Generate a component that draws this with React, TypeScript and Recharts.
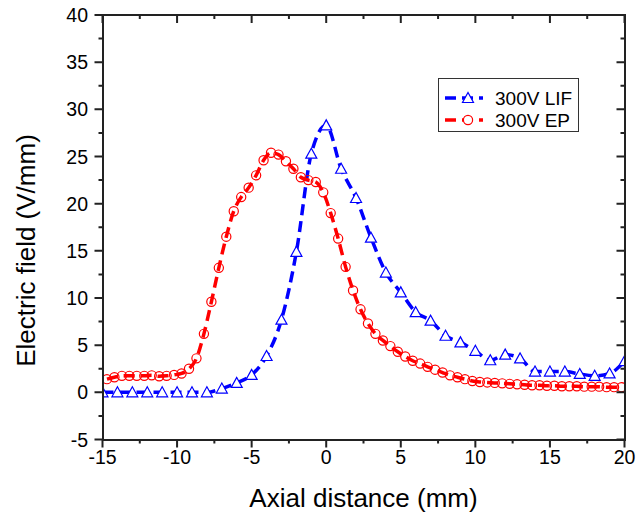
import { LineChart, Line, XAxis, YAxis, Legend, Label } from 'recharts'

// axial positions (mm) and field values (V/mm)
const LIF_X = [
  -15, -14, -13, -12, -11, -10, -9, -8, -7, -6, -5, -4, -3, -2, -1, 0, 1, 2,
  3, 4, 5, 6, 7, 8, 9, 10, 11, 12, 13, 14, 15, 16, 17, 18, 19, 20,
]
const LIF_Y = [
  0, 0, 0, 0, 0, 0, 0, 0, 0.4, 1.0, 1.85, 3.85, 7.7, 14.9, 25.3, 28.3, 23.7, 20.6,
  16.4, 12.7, 10.6, 8.5, 7.6, 6.0, 5.3, 4.4, 3.4, 4.0, 3.6, 2.2, 2.2, 2.2, 1.95, 1.75, 2.0, 3.3,
]

const EP_X = [
  -14.7, -14.2, -13.7, -13.2, -12.7, -12.2, -11.7, -11.2, -10.7, -10.2,
  -9.7, -9.2, -8.7, -8.2, -7.7, -7.2, -6.7, -6.2, -5.7, -5.2,
  -4.7, -4.2, -3.7, -3.2, -2.7, -2.2, -1.7, -1.2, -0.7, -0.2,
  0.3, 0.8, 1.3, 1.8, 2.3, 2.8, 3.3, 3.8, 4.3, 4.8,
  5.3, 5.8, 6.3, 6.8, 7.3, 7.8, 8.3, 8.8, 9.3, 9.8,
  10.3, 10.8, 11.3, 11.8, 12.3, 12.8, 13.3, 13.8, 14.3, 14.8,
  15.3, 15.8, 16.3, 16.8, 17.3, 17.8, 18.3, 18.8, 19.3, 19.8,
]
const EP_Y = [
  1.4, 1.6, 1.75, 1.75, 1.75, 1.75, 1.8, 1.7, 1.75, 1.85,
  2.0, 2.5, 3.6, 6.2, 9.6, 13.2, 16.5, 19.2, 20.7, 21.7,
  23.0, 24.6, 25.4, 25.2, 24.5, 23.7, 22.8, 22.5, 22.3, 21.2,
  19.0, 16.3, 13.3, 10.8, 8.8, 7.3, 6.2, 5.5, 4.9, 4.3,
  3.8, 3.35, 3.05, 2.7, 2.4, 2.1, 1.8, 1.6, 1.4, 1.2,
  1.1, 1.05, 1.0, 0.95, 0.9, 0.85, 0.8, 0.75, 0.75, 0.7,
  0.7, 0.65, 0.65, 0.65, 0.6, 0.6, 0.6, 0.55, 0.55, 0.55,
]

const SERIES = ['300V LIF', '300V EP']
const X_MAJOR = [-15, -10, -5, 0, 5, 10, 15, 20]
const X_MINOR = [-12.5, -7.5, -2.5, 2.5, 7.5, 12.5, 17.5]
const Y_MAJOR = [-5, 0, 5, 10, 15, 20, 25, 30, 35, 40]
const Y_MINOR = [-2.5, 2.5, 7.5, 12.5, 17.5, 22.5, 27.5, 32.5, 37.5]

const lifData = LIF_X.map((x, i) => ({ x, y: LIF_Y[i] }))
const epData = EP_X.map((x, i) => ({ x, y: EP_Y[i] }))
const xTicks = [...X_MAJOR, ...X_MINOR].sort((a, b) => a - b)
const yTicks = [...Y_MAJOR, ...Y_MINOR].sort((a, b) => a - b)

const FONT = '"Liberation Sans", Arial, sans-serif'
const AXIS = '#222'
const BLUE = '#0000ff'
const RED = '#ff0000'
const MAJOR = 8
const MINOR = 4
const Y_GAP = 14.5
const X_GAP = 24.5

// chart box
const W = 636
const H = 517
const MARGIN = { top: 15, right: 11.5, left: 0, bottom: 0 }
const Y_AXIS_W = 102.5
const X_AXIS_H = 77.5
const PLOT_W = W - MARGIN.left - MARGIN.right - Y_AXIS_W
const PLOT_H = H - MARGIN.top - MARGIN.bottom - X_AXIS_H

// left ticks + the mirrored inward ticks on the right frame edge
function LeftTick({ x, y, payload }: any) {
  const major = Y_MAJOR.includes(payload.value)
  const len = major ? MAJOR : MINOR
  const ax = x + Y_GAP
  const rx = ax + PLOT_W
  return (
    <g>
      <path d={`M${ax},${y}h${-len}M${rx},${y}h${-len}`} stroke={AXIS} strokeWidth={2} fill="none" />
      {major && (
        <text x={x} y={y} dy="0.36em" textAnchor="end" fontFamily={FONT} fontSize={19.5} fill="#000">
          {payload.value}
        </text>
      )}
    </g>
  )
}

// bottom ticks + the mirrored inward ticks on the top frame edge
function BottomTick({ x, y, payload }: any) {
  const major = X_MAJOR.includes(payload.value)
  const len = major ? MAJOR : MINOR
  const ay = y - X_GAP
  const ty = ay - PLOT_H
  return (
    <g>
      <path d={`M${x},${ay}v${len}M${x},${ty}v${len}`} stroke={AXIS} strokeWidth={2} fill="none" />
      {major && (
        <text x={x} y={y} textAnchor="middle" fontFamily={FONT} fontSize={19.5} fill="#000">
          {payload.value}
        </text>
      )}
    </g>
  )
}

function triPoints(cx: number, cy: number) {
  return `${cx},${cy - 5.5} ${cx - 5.5},${cy + 4.5} ${cx + 5.5},${cy + 4.5}`
}

function TriDot(p: any) {
  if (p.cx == null || p.cy == null) return <g key={p.index} />
  return <polygon key={p.index} points={triPoints(p.cx, p.cy)} fill="#fff" stroke={BLUE} strokeWidth={1.2} />
}

function CircleDot(p: any) {
  if (p.cx == null || p.cy == null) return <g key={p.index} />
  return <circle key={p.index} cx={p.cx} cy={p.cy} r={4.6} fill="none" stroke={RED} strokeWidth={1.2} />
}

function YTitle() {
  return (
    <text transform="translate(35,250.5) rotate(-90)" textAnchor="middle" fontFamily={FONT} fontSize={26} fill="#000">
      Electric field (V/mm)
    </text>
  )
}

function LegendBox({ payload }: any) {
  const rows = [...(payload || [])].sort((a: any, b: any) => SERIES.indexOf(a.value) - SERIES.indexOf(b.value))
  return (
    <svg width={141} height={54} style={{ display: 'block' }}>
      <rect x={0.5} y={0.5} width={140} height={53} fill="#fff" stroke="#333" strokeWidth={1} />
      {rows.map((item: any, i: number) => {
        const cy = 20 + i * 22
        const isLif = item.value === SERIES[0]
        const color = isLif ? BLUE : RED
        return (
          <g key={item.value}>
            <line x1={7} x2={45} y1={cy} y2={cy} stroke={color} strokeWidth={3.5} strokeDasharray="11 6" />
            {isLif ? (
              <polygon points={triPoints(30, cy)} fill="#fff" stroke={BLUE} strokeWidth={1.2} />
            ) : (
              <circle cx={30} cy={cy} r={4.6} fill="#fff" stroke={RED} strokeWidth={1.2} />
            )}
            <text x={57} y={cy} dy="0.36em" fontFamily={FONT} fontSize={19} fill="#000">
              {item.value}
            </text>
          </g>
        )
      })}
    </svg>
  )
}

export default function App() {
  return (
    <div style={{ position: 'absolute', left: 0, top: 0, width: W, height: H, background: '#fff' }}>
      <LineChart width={W} height={H} margin={MARGIN}>
        <XAxis
          dataKey="x"
          type="number"
          domain={[-15, 20]}
          ticks={xTicks}
          interval={0}
          allowDataOverflow
          height={X_AXIS_H}
          tickLine={false}
          tickSize={0}
          tickMargin={X_GAP}
          tick={BottomTick}
          axisLine={false}
        >
          <Label
            value="Axial distance (mm)"
            position="insideBottom"
            offset={10}
            style={{ fontFamily: FONT, fontSize: 26, fill: '#000', stroke: 'none' }}
          />
        </XAxis>
        <YAxis
          type="number"
          domain={[-5, 40]}
          ticks={yTicks}
          interval={0}
          allowDataOverflow
          width={Y_AXIS_W}
          tickLine={false}
          tickSize={0}
          tickMargin={Y_GAP}
          tick={LeftTick}
          axisLine={false}
        >
          <Label content={YTitle} />
        </YAxis>
        <Legend
          layout="vertical"
          align="center"
          verticalAlign="middle"
          content={LegendBox}
          wrapperStyle={{ position: 'absolute', left: 438, top: 78, width: 141, height: 54 }}
        />
        <Line
          name={SERIES[0]}
          data={lifData}
          dataKey="y"
          type="monotone"
          stroke={BLUE}
          strokeWidth={3.5}
          strokeDasharray="11 6"
          dot={TriDot}
          activeDot={false}
          isAnimationActive={false}
        />
        <Line
          name={SERIES[1]}
          data={epData}
          dataKey="y"
          type="monotone"
          stroke={RED}
          strokeWidth={3.5}
          strokeDasharray="11 6"
          dot={CircleDot}
          activeDot={false}
          isAnimationActive={false}
        />
      </LineChart>
      {/* plot frame, border centred on the plot edges */}
      <div
        style={{
          position: 'absolute',
          boxSizing: 'border-box',
          left: MARGIN.left + Y_AXIS_W - 1,
          top: MARGIN.top - 1,
          width: PLOT_W + 2,
          height: PLOT_H + 2,
          border: `2px solid ${AXIS}`,
          pointerEvents: 'none',
        }}
      />
    </div>
  )
}
